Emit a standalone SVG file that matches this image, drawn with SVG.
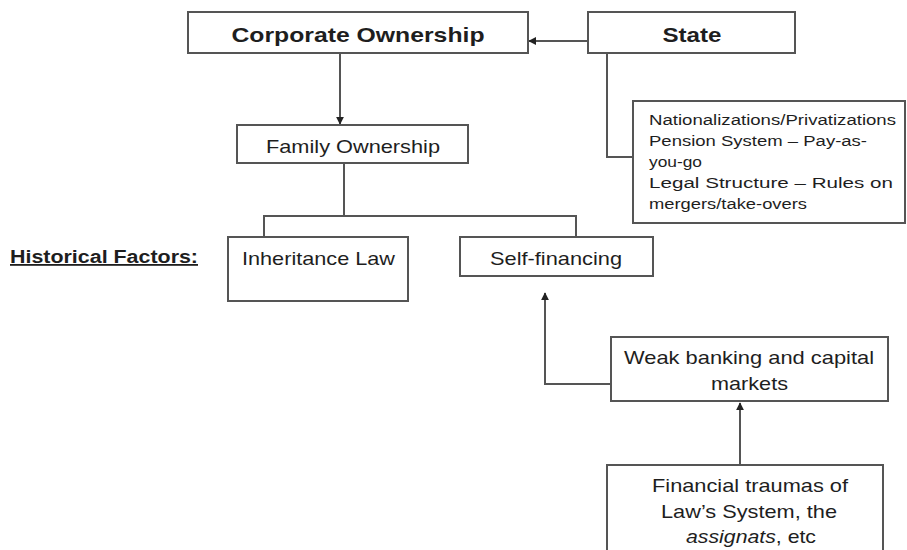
<svg xmlns="http://www.w3.org/2000/svg" width="907" height="550" viewBox="0 0 907 550">
<style>
.box{fill:#fff;stroke:#555;stroke-width:2}
.ln{fill:none;stroke:#555;stroke-width:2}
text{font-family:"Liberation Sans",Arial,sans-serif;fill:#1e1e1e}
.b{font-weight:bold}
.c{text-anchor:middle}
</style>
<defs>
<marker id="ah" viewBox="0 0 10 10" refX="9" refY="5" markerWidth="8" markerHeight="8" markerUnits="userSpaceOnUse" orient="auto">
<path d="M0,0 L10,5 L0,10 z" fill="#222"/>
</marker>
</defs>
<rect width="907" height="550" fill="#fff"/>
<g id="connectors">
<line class="ln" x1="588" y1="41" x2="529" y2="41" marker-end="url(#ah)"/>
<polyline class="ln" points="607,53 607,157 633,157"/>
<line class="ln" x1="340" y1="53" x2="340" y2="124" marker-end="url(#ah)"/>
<line class="ln" x1="344" y1="163" x2="344" y2="216"/>
<polyline class="ln" points="264,237 264,216 576,216 576,237"/>
<polyline class="ln" points="611,384 545,384 545,293" marker-end="url(#ah)"/>
<line class="ln" x1="740" y1="465" x2="740" y2="403" marker-end="url(#ah)"/>
</g>
<g id="corporate">
<rect class="box" x="188" y="12" width="340" height="41"/>
<text class="b c" x="358" y="42" font-size="21" textLength="253" lengthAdjust="spacingAndGlyphs">Corporate Ownership</text>
</g>
<g id="state">
<rect class="box" x="588" y="12" width="207" height="41"/>
<text class="b c" x="692" y="42" font-size="21" textLength="59" lengthAdjust="spacingAndGlyphs">State</text>
</g>
<g id="state-factors">
<rect class="box" x="633" y="101" width="272" height="122"/>
<text x="649" y="125" font-size="15.5" textLength="247" lengthAdjust="spacingAndGlyphs">Nationalizations/Privatizations</text>
<text x="649" y="146" font-size="15.5" textLength="218" lengthAdjust="spacingAndGlyphs">Pension System – Pay-as-</text>
<text x="649" y="167" font-size="15.5" textLength="53" lengthAdjust="spacingAndGlyphs">you-go</text>
<text x="649" y="188" font-size="15.5" textLength="244" lengthAdjust="spacingAndGlyphs">Legal Structure – Rules on</text>
<text x="649" y="209" font-size="15.5" textLength="158" lengthAdjust="spacingAndGlyphs">mergers/take-overs</text>
</g>
<g id="family">
<rect class="box" x="237" y="125" width="231" height="38"/>
<text class="c" x="353" y="153" font-size="18.5" textLength="174" lengthAdjust="spacingAndGlyphs">Family Ownership</text>
</g>
<g id="historical-label">
<text class="b" x="10" y="263" font-size="18" textLength="188" lengthAdjust="spacingAndGlyphs" text-decoration="underline">Historical Factors:</text>
</g>
<g id="inheritance">
<rect class="box" x="228" y="237" width="180" height="64"/>
<text x="242" y="265" font-size="18.5" textLength="153" lengthAdjust="spacingAndGlyphs">Inheritance Law</text>
</g>
<g id="self-financing">
<rect class="box" x="460" y="237" width="193" height="39"/>
<text class="c" x="556" y="265" font-size="18.5" textLength="132" lengthAdjust="spacingAndGlyphs">Self-financing</text>
</g>
<g id="weak-banking">
<rect class="box" x="611" y="337" width="277" height="64"/>
<text class="c" x="749" y="364" font-size="18.5" textLength="250" lengthAdjust="spacingAndGlyphs">Weak banking and capital</text>
<text class="c" x="749.5" y="390" font-size="18.5" textLength="77" lengthAdjust="spacingAndGlyphs">markets</text>
</g>
<g id="financial-traumas">
<rect class="box" x="607" y="465" width="276" height="100"/>
<text class="c" x="750" y="492" font-size="18.5" textLength="196" lengthAdjust="spacingAndGlyphs">Financial traumas of</text>
<text class="c" x="749" y="518" font-size="18.5" textLength="176" lengthAdjust="spacingAndGlyphs">Law’s System, the</text>
<text class="c" x="751" y="543" font-size="18.5" textLength="130" lengthAdjust="spacingAndGlyphs"><tspan font-style="italic">assignats</tspan>, etc</text>
</g>
</svg>
